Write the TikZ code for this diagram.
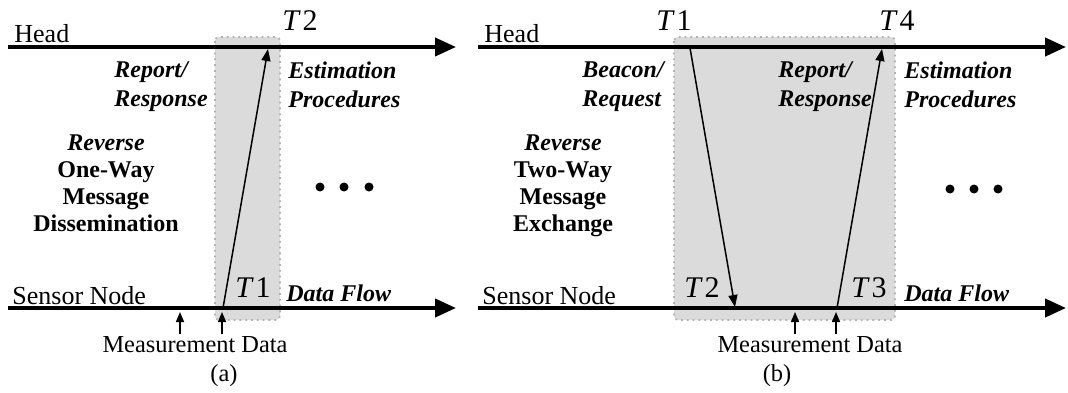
\documentclass[tikz,border=0pt]{standalone}
\usepackage{fontspec}
\setmainfont{Liberation Serif}
\usetikzlibrary{arrows.meta}

\begin{document}
\begin{tikzpicture}[x=0.5pt,y=-0.5pt,
    axis/.style={line width=2pt,-{Triangle[length=10.5pt,width=9pt]}},
    msg/.style={line width=0.75pt,-{Triangle[length=6pt,width=4.5pt]}},
    meas/.style={line width=0.75pt,-{Triangle[length=5pt,width=4pt]}},
    window/.style={fill=black!14,draw=black!30,dotted,line width=0.9pt,rounded corners=2pt},
    tlabel/.style={anchor=base,inner sep=0pt,font=\fontsize{15}{18}\selectfont},
    plain/.style={anchor=base west,inner sep=0pt,font=\fontsize{13}{15}\selectfont},
    caption/.style={anchor=base,inner sep=0pt,font=\fontsize{12.2}{15}\selectfont},
    phase/.style={anchor=north west,align=left,inner sep=0pt,font=\fontsize{12}{14.5}\selectfont\bfseries\itshape},
    scheme/.style={anchor=north,align=center,inner sep=0pt,font=\fontsize{12}{13.5}\selectfont\bfseries},
    dot/.style={circle,fill,inner sep=0pt,minimum size=4.5pt}]

\useasboundingbox (0,0) rectangle (1068,392);

% ---- (a) reverse one-way ----
\draw[window] (215,37) rectangle (280,320);

\coordinate (headA0) at (8,47);
\coordinate (headA1) at (456,47);
\coordinate (sensA0) at (8,308);
\coordinate (sensA1) at (456,308);
\draw[axis] (headA0) -- (headA1);
\draw[axis] (sensA0) -- (sensA1);

\node[plain] (headA) at (14,42) {Head};
\node[plain] (sensA) at (12,304) {Sensor Node};

\coordinate (txA) at (223,308);
\coordinate (rxA) at (268,49);
\draw[msg] (txA) -- (rxA);

\node[tlabel] (tAone) at (253,297) {\textit{T}\kern1pt1};
\node[tlabel] (tAtwo) at (300,30) {\textit{T}\kern1pt2};

\node[phase] (repA) at (114,61) {Report/\\Response};
\node[phase] (estA) at (288,61) {Estimation\\Procedures};
\node[phase,anchor=base west] (flowA) at (286,301) {Data Flow};
\node[scheme] (nameA) at (106,134) {\textit{Reverse}\\One-Way\\Message\\Dissemination};

\foreach \x [count=\i] in {320,344,369}
  \node[dot] (dotA\i) at (\x,187) {};

\coordinate (mA1) at (180,334);
\coordinate (mA1t) at (180,312);
\coordinate (mA2) at (222,334);
\coordinate (mA2t) at (222,312);
\draw[meas] (mA1) -- (mA1t);
\draw[meas] (mA2) -- (mA2t);
\node[caption] (measA) at (195,352) {Measurement Data};
\node[caption] (capA) at (224,381) {(a)};

% ---- (b) reverse two-way ----
\draw[window] (674,37) rectangle (895,320);

\coordinate (headB0) at (478,47);
\coordinate (headB1) at (1066,47);
\coordinate (sensB0) at (478,308);
\coordinate (sensB1) at (1066,308);
\draw[axis] (headB0) -- (headB1);
\draw[axis] (sensB0) -- (sensB1);

\node[plain] (headB) at (484,42) {Head};
\node[plain] (sensB) at (482,304) {Sensor Node};

\coordinate (bcnB) at (690,48);
\coordinate (bcnBr) at (735,307);
\coordinate (txB) at (837,308);
\coordinate (rxB) at (882,49);
\draw[msg] (bcnB) -- (bcnBr);
\draw[msg] (txB) -- (rxB);

\node[tlabel] (tBone) at (674,30) {\textit{T}\kern1pt1};
\node[tlabel] (tBtwo) at (702,297) {\textit{T}\kern1pt2};
\node[tlabel] (tBthree) at (869,297) {\textit{T}\kern1pt3};
\node[tlabel] (tBfour) at (897,30) {\textit{T}\kern1pt4};

\node[phase] (reqB) at (582,61) {Beacon/\\Request};
\node[phase] (repB) at (778,61) {Report/\\Response};
\node[phase] (estB) at (904,61) {Estimation\\Procedures};
\node[phase,anchor=base west] (flowB) at (904,301) {Data Flow};
\node[scheme] (nameB) at (563,134) {\textit{Reverse}\\Two-Way\\Message\\Exchange};

\foreach \x [count=\i] in {950,974,998}
  \node[dot] (dotB\i) at (\x,189) {};

\coordinate (mB1) at (795,334);
\coordinate (mB1t) at (795,312);
\coordinate (mB2) at (836,334);
\coordinate (mB2t) at (836,312);
\draw[meas] (mB1) -- (mB1t);
\draw[meas] (mB2) -- (mB2t);
\node[caption] (measB) at (810,352) {Measurement Data};
\node[caption] (capB) at (777,381) {(b)};

\end{tikzpicture}
\end{document}
